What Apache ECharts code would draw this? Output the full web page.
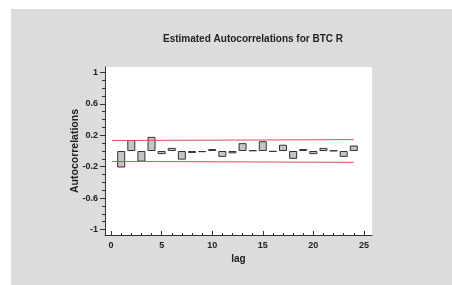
<!DOCTYPE html>
<html>
<head>
<meta charset="utf-8">
<script src="https://cdn.jsdelivr.net/npm/echarts@6/dist/echarts.min.js"></script>
<style>
  html, body { margin: 0; padding: 0; background: #fff; }
  #chart { width: 452px; height: 285px; }
</style>
</head>
<body>
<div id="chart"></div>
<script>
// lags and estimated autocorrelations
var lags = [1, 2, 3, 4, 5, 6, 7, 8, 9, 10, 11, 12, 13, 14, 15, 16, 17, 18, 19, 20, 21, 22, 23, 24]
var acf = [-0.21, 0.14, -0.135, 0.18, -0.04, 0.04, -0.11, -0.025, -0.015, 0.025, -0.075, -0.03,
  0.10, 0.008, 0.125, -0.01, 0.08, -0.10, 0.025, -0.04, 0.04, 0.005, -0.075, 0.07]
// probability limits (lag, value)
var upperLimit = [[0.1, 0.134], [1.5, 0.134], [1.5, 0.143], [24, 0.145]]
var lowerLimit = [[0.1, -0.134], [4.5, -0.134], [4.5, -0.145], [24, -0.145]]
// tick labels
var yLabels = [-1, -0.6, -0.2, 0.2, 0.6, 1]
var yMinor = [-1, -0.9, -0.8, -0.7, -0.6, -0.5, -0.4, -0.3, -0.2, -0.1, 0, 0.1, 0.2, 0.3, 0.4, 0.5, 0.6, 0.7, 0.8, 0.9, 1]
var xLabels = [0, 5, 10, 15, 20, 25]
var xMinor = [0, 1, 2, 3, 4, 5, 6, 7, 8, 9, 10, 11, 12, 13, 14, 15, 16, 17, 18, 19, 20, 21, 22, 23, 24, 25]

var chart = echarts.init(document.getElementById('chart'))
var labelFont = { fontFamily: 'Liberation Sans', fontWeight: 'bold', fontSize: 9, color: '#222' }

var option = {
  animation: false,
  graphic: [{
    type: 'rect',
    shape: { x: 11, y: 9, width: 441, height: 276 },
    style: { fill: '#dcdcdc' },
    z: -10
  }],
  title: {
    text: 'Estimated Autocorrelations for BTC R',
    left: 248,
    top: 29,
    textAlign: 'center',
    textStyle: { fontFamily: 'Liberation Sans', fontWeight: 'bold', fontSize: 10, color: '#222' }
  },
  grid: { left: 105, top: 67, right: 80, bottom: 50, show: true, backgroundColor: '#fff', borderWidth: 0 },
  xAxis: [
    {
      type: 'value', min: -0.6, max: 25.8,
      name: 'lag', nameLocation: 'middle', nameGap: 19, nameMoveOverlap: false,
      nameTextStyle: { fontFamily: 'Liberation Sans', fontWeight: 'bold', fontSize: 10, color: '#222' },
      axisLine: { onZero: false, lineStyle: { color: '#333', width: 1 } },
      axisTick: { inside: true, length: 4, customValues: xLabels, lineStyle: { color: '#333' } },
      axisLabel: Object.assign({ customValues: xLabels, margin: 6 }, labelFont),
      splitLine: { show: false }
    },
    {
      type: 'value', min: -0.6, max: 25.8, position: 'bottom',
      axisLine: { show: false, onZero: false },
      axisTick: { inside: true, length: 2, customValues: xMinor, lineStyle: { color: '#333' } },
      axisLabel: { show: false },
      splitLine: { show: false }
    }
  ],
  yAxis: [
    {
      type: 'value', min: -1.07, max: 1.07,
      name: 'Autocorrelations', nameLocation: 'middle', nameGap: 24, nameMoveOverlap: false,
      nameTextStyle: { fontFamily: 'Liberation Sans', fontWeight: 'bold', fontSize: 10.5, color: '#222' },
      axisLine: { show: true, onZero: false, lineStyle: { color: '#333', width: 1 } },
      axisTick: { show: true, length: 5, customValues: yLabels, lineStyle: { color: '#333' } },
      axisLabel: Object.assign({ customValues: yLabels, margin: 7, formatter: function (v) { return String(v) } }, labelFont),
      splitLine: { show: false }
    },
    {
      type: 'value', min: -1.07, max: 1.07, position: 'left',
      axisLine: { show: false, onZero: false },
      axisTick: { show: true, length: 3, customValues: yMinor, lineStyle: { color: '#333' } },
      axisLabel: { show: false },
      splitLine: { show: false }
    }
  ],
  series: [
    {
      type: 'bar',
      barWidth: 8,
      data: lags.map(function (l, i) { return [l, acf[i]] }),
      itemStyle: { color: '#c4c4c4', borderColor: '#333', borderWidth: 1 }
    },
    {
      type: 'line', data: upperLimit, symbol: 'none',
      lineStyle: { color: '#d9535b', width: 1 }
    },
    {
      type: 'line', data: lowerLimit, symbol: 'none',
      lineStyle: { color: '#d9535b', width: 1 }
    }
  ]
}
chart.setOption(option)
</script>
</body>
</html>
